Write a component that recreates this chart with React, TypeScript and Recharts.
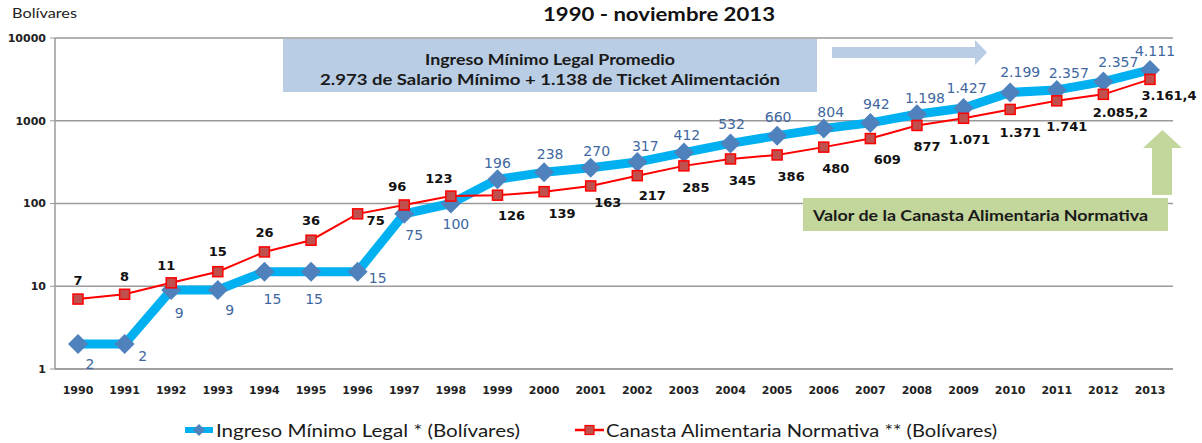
import React from 'react';
import { LineChart, Line, XAxis, YAxis, CartesianGrid, Legend, Customized } from 'recharts';

const years = ['1990','1991','1992','1993','1994','1995','1996','1997','1998','1999','2000','2001','2002','2003','2004','2005','2006','2007','2008','2009','2010','2011','2012','2013'];
const ingreso = [2,2,9,9,15,15,15,75,100,196,238,270,317,412,532,660,804,942,1198,1427,2199,2357,2973,4111];
const ingresoLabels = ['2','2','9','9','15','15','15','75','100','196','238','270','317','412','532','660','804','942','1.198','1.427','2.199','2.357','2.357','4.111'];
const canasta = [7,8,11,15,26,36,75,96,123,126,139,163,217,285,345,386,480,609,877,1071,1371,1741,2085.2,3161.4];
const canastaLabels = ['7','8','11','15','26','36','75','96','123','126','139','163','217','285','345','386','480','609','877','1.071','1.371','1.741','2.085,2','3.161,4'];
const yTicks = [1,10,100,1000,10000];

const ingresoName = 'Ingreso Mínimo Legal *  (Bolívares)';
const canastaName = 'Canasta Alimentaria Normativa ** (Bolívares)';
const titleText = '1990 - noviembre 2013';
const unitText = 'Bolívares';
const boxLine1 = 'Ingreso Mínimo Legal Promedio';
const boxLine2 = '2.973 de Salario Mínimo + 1.138  de Ticket Alimentación';
const greenText = 'Valor de la Canasta Alimentaria Normativa';

// label placement offsets (styling, not data)
const ingresoOffsets: [number, number][] = [
  [12,20],[18,12],[8,23],[12,20],[8,27],[3,27],[20,6],[10,21],[5,20],[0,-16],[6,-18],[6,-17],
  [8,-16],[3,-18],[1,-19],[1,-19],[7,-17],[6,-19],[8,-16],[3,-20],[10,-20],[12,-17],[15,-20],[5,-19]
];
const canastaOffsets: [number, number][] = [
  [0,-19],[0,-18],[-5,-17],[0,-20],[0,-19],[0,-20],[18,7],[-7,-18],[-12,-18],[14,20],[18,22],[17,17],
  [15,20],[12,22],[12,22],[14,22],[12,21],[17,21],[10,21],[6,21],[10,23],[10,26],[17,18],[19,16]
];

const data = years.map((y, i) => ({ year: y, ingreso: ingreso[i], canasta: canasta[i] }));

const CYAN = '#00B0F0';
const DIAMOND = '#4F81BD';
const RED = '#FF0000';
const SQUARE = '#C0504D';
const GRID = '#9a9a9a';
const CAL = 'Lato, "Open Sans", sans-serif';
const VER = '"DejaVu Sans", Verdana, sans-serif';

const DiamondDot = (props: any) => {
  const { cx, cy, index } = props;
  if (cx == null || cy == null) return <g key={`d${index}`} />;
  const r = 10;
  return (
    <polygon key={`d${index}`} points={`${cx},${cy - r} ${cx + r},${cy} ${cx},${cy + r} ${cx - r},${cy}`} fill={DIAMOND} />
  );
};

const SquareDot = (props: any) => {
  const { cx, cy, index } = props;
  if (cx == null || cy == null) return <g key={`s${index}`} />;
  const s = 10;
  return <rect key={`s${index}`} x={cx - s / 2} y={cy - s / 2} width={s} height={s} fill={SQUARE} stroke={RED} strokeWidth={1.5} />;
};

const IngresoLabel = (props: any) => {
  const { x, y, index } = props;
  const [dx, dy] = ingresoOffsets[index] || [0, -18];
  return (
    <text key={`il${index}`} x={x + dx} y={y + dy} textAnchor="middle" dominantBaseline="central"
      fontFamily={VER} fontSize={14} fill="#41679F">{ingresoLabels[index]}</text>
  );
};

const CanastaLabel = (props: any) => {
  const { x, y, index } = props;
  const [dx, dy] = canastaOffsets[index] || [0, 18];
  return (
    <text key={`cl${index}`} x={x + dx} y={y + dy} textAnchor="middle" dominantBaseline="central"
      fontFamily={VER} fontSize={13} fontWeight="bold" fill="#111">{canastaLabels[index]}</text>
  );
};

const Annotations = () => (
  <g>
    <text x={12} y={13} fontFamily={CAL} fontSize={13} fill="#222" dominantBaseline="central"
      textLength={65} lengthAdjust="spacingAndGlyphs">{unitText}</text>
    <text x={659} y={13} fontFamily={CAL} fontSize={19} fontWeight="bold" fill="#111" textAnchor="middle"
      dominantBaseline="central" textLength={232} lengthAdjust="spacingAndGlyphs">{titleText}</text>
    <rect x={283} y={39} width={534} height={53} fill="#B9CDE5" />
    <text x={550} y={59} fontFamily={CAL} fontSize={15} fontWeight="bold" fill="#1a1a1a" textAnchor="middle"
      dominantBaseline="central" textLength={250} lengthAdjust="spacingAndGlyphs">{boxLine1}</text>
    <text x={550} y={79} fontFamily={CAL} fontSize={15} fontWeight="bold" fill="#1a1a1a" textAnchor="middle"
      dominantBaseline="central" textLength={460} lengthAdjust="spacingAndGlyphs">{boxLine2}</text>
    <polygon points="832,47 975,47 975,40 987,52.5 975,65 975,58 832,58" fill="#B9CDE5" />
    <polygon points="1152,195 1152,148 1143,148 1162.5,130 1182,148 1172,148 1172,195" fill="#C3D69B" />
    <rect x={803} y={198} width={365} height={33} fill="#C3D69B" />
    <text x={813} y={215} fontFamily={CAL} fontSize={15} fontWeight="bold" fill="#1a1a1a"
      dominantBaseline="central" textLength={335} lengthAdjust="spacingAndGlyphs">{greenText}</text>
  </g>
);

const LegendContent = () => (
  <svg width={1202} height={30} style={{ display: 'block' }}>
    <line x1={185} y1={17} x2={213} y2={17} stroke={CYAN} strokeWidth={6} />
    <polygon points="199,11 205,17 199,23 193,17" fill={DIAMOND} />
    <text x={216} y={17} fontFamily={CAL} fontSize={18} fill="#1a1a1a" dominantBaseline="central"
      textLength={304} lengthAdjust="spacingAndGlyphs">{ingresoName}</text>
    <line x1={575} y1={17} x2={604} y2={17} stroke={RED} strokeWidth={2.5} />
    <rect x={585} y={12.5} width={9} height={9} fill={SQUARE} stroke={RED} strokeWidth={1.2} />
    <text x={606} y={17} fontFamily={CAL} fontSize={18} fill="#1a1a1a" dominantBaseline="central"
      textLength={391} lengthAdjust="spacingAndGlyphs">{canastaName}</text>
  </svg>
);

export default function App() {
  return (
    <div style={{ position: 'absolute', left: 0, top: 0, width: 1202, height: 443, background: '#fff' }}>
      <LineChart width={1202} height={443} data={data} margin={{ top: 38, right: 29, bottom: 0, left: 0 }}>
        <Customized component={Annotations} />
        <CartesianGrid vertical={false} stroke={GRID} strokeWidth={1.5} />
        <XAxis dataKey="year" height={44} tickLine={false} axisLine={{ stroke: GRID, strokeWidth: 1.5 }}
          tickMargin={11} interval={0} padding={{ left: 23, right: 23 }}
          tick={{ fontFamily: VER, fontSize: 11, fontWeight: 'bold', fill: '#222' }} />
        <YAxis scale="log" domain={[1, 10000]} ticks={yTicks} width={55} allowDataOverflow
          axisLine={{ stroke: GRID, strokeWidth: 1.5 }} tickLine={{ stroke: GRID }} tickSize={5} tickMargin={4}
          tick={{ fontFamily: VER, fontSize: 11, fontWeight: 'bold', fill: '#222' }} />
        <Line dataKey="ingreso" name={ingresoName} stroke={CYAN} strokeWidth={9} dot={DiamondDot}
          activeDot={false} label={IngresoLabel} isAnimationActive={false} strokeLinejoin="round" />
        <Line dataKey="canasta" name={canastaName} stroke={RED} strokeWidth={2} dot={SquareDot}
          activeDot={false} label={CanastaLabel} isAnimationActive={false} />
        <Legend verticalAlign="bottom" height={30} content={LegendContent}
          wrapperStyle={{ left: 0, width: 1202, bottom: 0 }} />
      </LineChart>
    </div>
  );
}
